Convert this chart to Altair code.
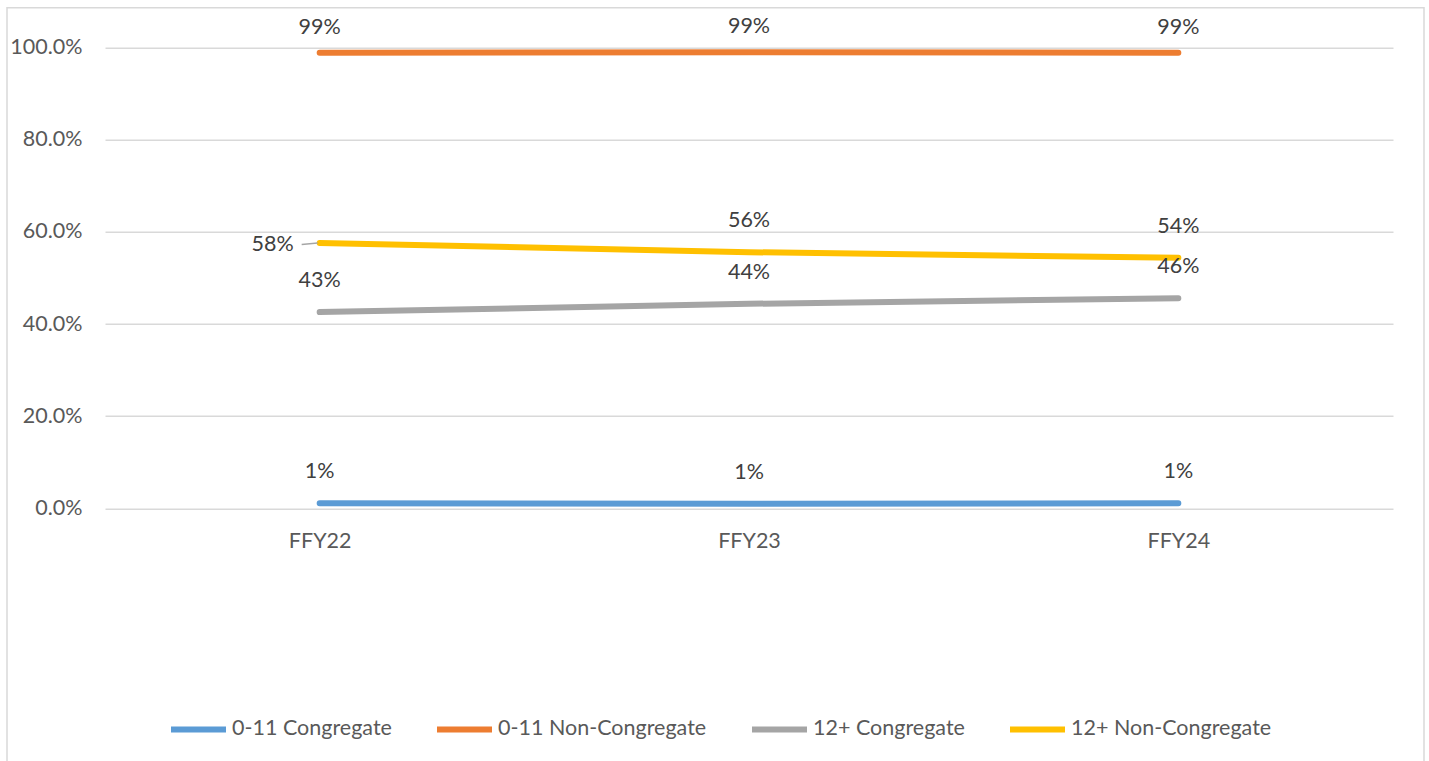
import altair as alt
import pandas as pd

# Share of placements by age group and setting, federal fiscal years 22-24
years = ["FFY22", "FFY23", "FFY24"]
series = ["0-11 Congregate", "0-11 Non-Congregate", "12+ Congregate", "12+ Non-Congregate"]
colors = ["#5B9BD5", "#ED7D31", "#A5A5A5", "#FFC000"]

congregate_0_11 = [0.011, 0.010, 0.011]
non_congregate_0_11 = [0.989, 0.990, 0.989]
congregate_12 = [0.426, 0.444, 0.456]
non_congregate_12 = [0.576, 0.556, 0.544]

rows = []
for name, vals in zip(series, [congregate_0_11, non_congregate_0_11, congregate_12, non_congregate_12]):
    for y, v in zip(years, vals):
        rows.append({"year": y, "series": name, "value": v})
df = pd.DataFrame(rows)

FONT = "Lato"
FS = 21.5
W, H = 1288, 460.6

x_enc = alt.X("year:N", sort=years,
              scale=alt.Scale(type="point", padding=0.5),
              axis=alt.Axis(title=None, labelAngle=0, ticks=False, domain=False, grid=False,
                            labelPadding=22, labelFontSize=FS, labelColor="#595959",
                            labelFont=FONT))
y_enc = alt.Y("value:Q", scale=alt.Scale(domain=[0, 1]),
              axis=alt.Axis(title=None, format=".1%", values=[0, 0.2, 0.4, 0.6, 0.8, 1.0],
                            ticks=False, domain=False, labelPadding=23, labelFontSize=FS,
                            labelColor="#595959", labelFont=FONT,
                            grid=True, gridColor="#D9D9D9", gridWidth=1.5))

color_enc = alt.Color("series:N",
                      scale=alt.Scale(domain=series, range=colors),
                      legend=alt.Legend(title=None, orient="none", direction="horizontal",
                                        legendX=63, legendY=651,
                                        symbolType="stroke", symbolSize=3025,
                                        symbolStrokeWidth=6, labelFontSize=FS,
                                        labelColor="#595959", labelFont=FONT,
                                        labelLimit=0, labelOffset=3, columnPadding=33))

base = alt.Chart(df)

lines = base.mark_line(strokeWidth=6, strokeCap="round", strokeJoin="round").encode(
    x=x_enc, y=y_enc, color=color_enc, detail="series:N"
)

label_style = dict(fontSize=FS, font=FONT, color="#404040")

labels_main = base.transform_filter(
    "datum.series != '0-11 Non-Congregate' && !(datum.series == '12+ Non-Congregate' && datum.year == 'FFY22')"
).mark_text(dy=-31, **label_style).encode(
    x=alt.X("year:N", sort=years), y="value:Q", text=alt.Text("value:Q", format=".0%")
)

labels_top = base.transform_filter("datum.series == '0-11 Non-Congregate'").mark_text(
    dy=-25, **label_style
).encode(x=alt.X("year:N", sort=years), y="value:Q", text=alt.Text("value:Q", format=".0%"))

labels_left = base.transform_filter(
    "datum.series == '12+ Non-Congregate' && datum.year == 'FFY22'"
).mark_text(dx=-26, dy=2, align="right", **label_style).encode(
    x=alt.X("year:N", sort=years), y="value:Q", text=alt.Text("value:Q", format=".0%")
)

leader = base.transform_filter(
    "datum.series == '12+ Non-Congregate' && datum.year == 'FFY22'"
).mark_rule(color="#A5A5A5", strokeWidth=1.5, xOffset=-18, x2Offset=-2, yOffset=1.5, y2Offset=0).encode(
    x=alt.X("year:N", sort=years), x2=alt.X2("year:N"), y="value:Q", y2=alt.Y2("value:Q")
)

# outer frame around the whole chart
frame = alt.Chart(pd.DataFrame({"k": [0]})).mark_rect(
    fill=None, stroke="#D9D9D9", strokeWidth=1.5
).encode(x=alt.value(-98), x2=alt.value(1319), y=alt.value(-40), y2=alt.value(730))

chart = alt.layer(frame, lines, leader, labels_main, labels_top, labels_left).properties(
    width=W, height=H,
    background="white",
    autosize=alt.AutoSizeParams(type="none"),
    padding={"left": 105, "top": 47.7, "right": 36, "bottom": 252.7},
).configure_view(strokeWidth=0, stroke="transparent")

chart.save("out.html", embed_options={"renderer": "svg", "actions": False})
